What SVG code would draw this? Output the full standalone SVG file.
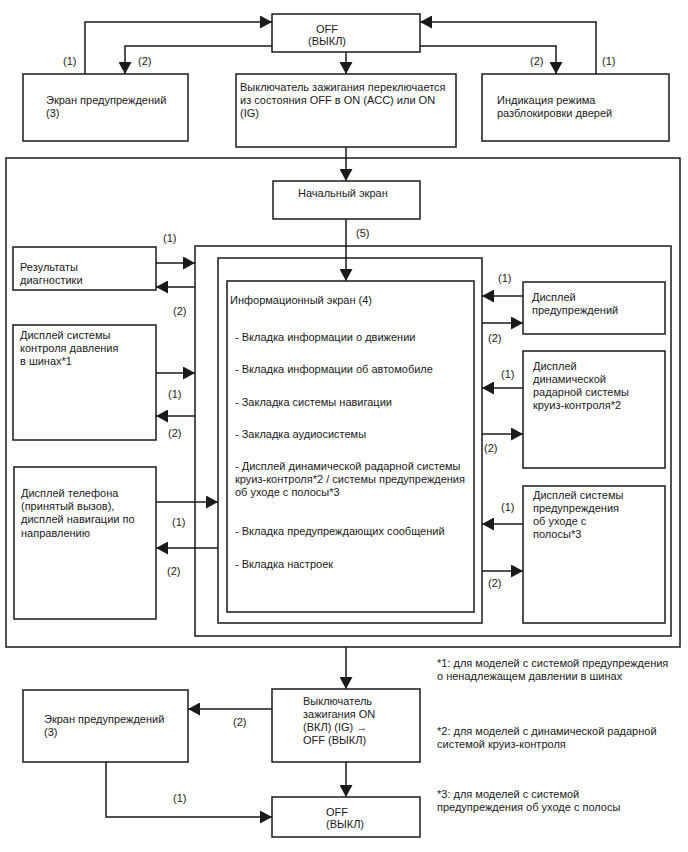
<svg xmlns="http://www.w3.org/2000/svg" width="688" height="852" viewBox="0 0 688 852">
<style>
.b{fill:#fff;stroke:#1a1a1a;stroke-width:1.5}
.c{fill:none;stroke:#1a1a1a;stroke-width:1.5}
text{font-family:"Liberation Sans",Arial,sans-serif;font-size:11px;fill:#1a1a1a}
</style>
<defs>
<marker id="a" viewBox="0 0 12 13" refX="12" refY="6.5" markerWidth="12" markerHeight="13" markerUnits="userSpaceOnUse" orient="auto">
<path d="M0,0 L12,6.5 L0,13 z" fill="#1a1a1a"/>
</marker>
</defs>
<rect width="688" height="852" fill="#fff"/>

<g id="outer"><rect class="b" x="6" y="158" width="674" height="489"/></g>
<g id="group2"><rect class="b" x="195" y="246" width="476" height="390"/></g>
<g id="group3"><rect class="b" x="218" y="258" width="264" height="365"/></g>

<g id="off-top"><rect class="b" x="272" y="14" width="148" height="38"/>
<text x="316" y="33">OFF</text><text x="308" y="45">(ВЫКЛ)</text></g>

<g id="warn-top"><rect class="b" x="23" y="74" width="165" height="67"/>
<text x="46" y="104">Экран предупреждений</text><text x="46" y="117">(3)</text></g>

<g id="ign-on"><rect class="b" x="236" y="74" width="220" height="73"/>
<text x="240" y="91">Выключатель зажигания переключается</text>
<text x="240" y="104">из состояния OFF в ON (ACC) или ON</text>
<text x="240" y="117">(IG)</text></g>

<g id="door"><rect class="b" x="482" y="74" width="187" height="67"/>
<text x="497" y="104">Индикация режима</text><text x="497" y="117">разблокировки дверей</text></g>

<g id="start"><rect class="b" x="273" y="181" width="147" height="38"/>
<text x="298" y="197">Начальный экран</text></g>

<g id="info"><rect class="b" x="227" y="281" width="247" height="331"/>
<text x="230" y="304">Информационный экран (4)</text>
<text x="235" y="341">- Вкладка информации о движении</text>
<text x="235" y="373">- Вкладка информации об автомобиле</text>
<text x="235" y="406">- Закладка системы навигации</text>
<text x="235" y="438">- Закладка аудиосистемы</text>
<text x="235" y="470">- Дисплей динамической радарной системы</text>
<text x="235" y="483">круиз-контроля*2 / системы предупреждения</text>
<text x="235" y="496">об уходе с полосы*3</text>
<text x="235" y="535">- Вкладка предупреждающих сообщений</text>
<text x="235" y="568">- Вкладка настроек</text></g>

<g id="diag"><rect class="b" x="13" y="247" width="143" height="43"/>
<text x="20" y="271">Результаты</text><text x="20" y="284">диагностики</text></g>

<g id="tire"><rect class="b" x="13" y="325" width="143" height="115"/>
<text x="20" y="339">Дисплей системы</text><text x="20" y="352">контроля давления</text><text x="20" y="365">в шинах*1</text></g>

<g id="phone"><rect class="b" x="14" y="467" width="142" height="152"/>
<text x="21" y="497">Дисплей телефона</text><text x="21" y="510">(принятый вызов),</text><text x="21" y="523">дисплей навигации по</text><text x="21" y="537">направлению</text></g>

<g id="warn-r"><rect class="b" x="523" y="282" width="142" height="52"/>
<text x="532" y="301">Дисплей</text><text x="532" y="314">предупреждений</text></g>

<g id="cruise"><rect class="b" x="523" y="351" width="142" height="117"/>
<text x="533" y="370">Дисплей</text><text x="533" y="383">динамической</text><text x="533" y="396">радарной системы</text><text x="533" y="409">круиз-контроля*2</text></g>

<g id="lane"><rect class="b" x="523" y="486" width="142" height="137"/>
<text x="533" y="499">Дисплей системы</text><text x="533" y="512">предупреждения</text><text x="533" y="525">об уходе с</text><text x="533" y="538">полосы*3</text></g>

<g id="ign-off"><rect class="b" x="272" y="689" width="148" height="73"/>
<text x="303" y="705">Выключатель</text><text x="303" y="718">зажигания ON</text><text x="303" y="731">(ВКЛ) (IG) →</text><text x="303" y="744">OFF (ВЫКЛ)</text></g>

<g id="warn-bot"><rect class="b" x="23" y="690" width="165" height="72"/>
<text x="44" y="723">Экран предупреждений</text><text x="44" y="736">(3)</text></g>

<g id="off-bot"><rect class="b" x="272" y="797" width="148" height="40"/>
<text x="326" y="816">OFF</text><text x="326" y="828">(ВЫКЛ)</text></g>

<g id="notes">
<text x="437" y="667">*1: для моделей с системой предупреждения</text>
<text x="437" y="680">о ненадлежащем давлении в шинах</text>
<text x="437" y="735">*2: для моделей с динамической радарной</text>
<text x="437" y="748">системой круиз-контроля</text>
<text x="437" y="798">*3: для моделей с системой</text>
<text x="437" y="811">предупреждения об уходе с полосы</text>
</g>

<g id="connectors">
<polyline class="c" points="85,74 85,22 272,22" marker-end="url(#a)"/>
<polyline class="c" points="272,46 125,46 125,74" marker-end="url(#a)"/>
<line class="c" x1="346" y1="52" x2="346" y2="74" marker-end="url(#a)"/>
<polyline class="c" points="420,46 556,46 556,74" marker-end="url(#a)"/>
<polyline class="c" points="596,74 596,22 420,22" marker-end="url(#a)"/>
<line class="c" x1="346" y1="147" x2="346" y2="181" marker-end="url(#a)"/>
<line class="c" x1="346" y1="219" x2="346" y2="281" marker-end="url(#a)"/>
<line class="c" x1="156" y1="263" x2="195" y2="263" marker-end="url(#a)"/>
<line class="c" x1="195" y1="287" x2="156" y2="287" marker-end="url(#a)"/>
<line class="c" x1="156" y1="373" x2="195" y2="373" marker-end="url(#a)"/>
<line class="c" x1="195" y1="416" x2="156" y2="416" marker-end="url(#a)"/>
<line class="c" x1="156" y1="502" x2="218" y2="502" marker-end="url(#a)"/>
<line class="c" x1="218" y1="548" x2="156" y2="548" marker-end="url(#a)"/>
<line class="c" x1="523" y1="296" x2="482" y2="296" marker-end="url(#a)"/>
<line class="c" x1="482" y1="323" x2="523" y2="323" marker-end="url(#a)"/>
<line class="c" x1="523" y1="388" x2="482" y2="388" marker-end="url(#a)"/>
<line class="c" x1="482" y1="434" x2="523" y2="434" marker-end="url(#a)"/>
<line class="c" x1="523" y1="524" x2="482" y2="524" marker-end="url(#a)"/>
<line class="c" x1="482" y1="571" x2="523" y2="571" marker-end="url(#a)"/>
<line class="c" x1="346" y1="647" x2="346" y2="689" marker-end="url(#a)"/>
<line class="c" x1="272" y1="709" x2="188" y2="709" marker-end="url(#a)"/>
<polyline class="c" points="106,762 106,817 272,817" marker-end="url(#a)"/>
<line class="c" x1="346" y1="762" x2="346" y2="797" marker-end="url(#a)"/>
<text x="63" y="65">(1)</text><text x="138" y="65">(2)</text>
<text x="530" y="65">(2)</text><text x="602" y="65">(1)</text>
<text x="356" y="237">(5)</text>
<text x="163" y="242">(1)</text><text x="173" y="315">(2)</text>
<text x="168" y="398">(1)</text><text x="168" y="437">(2)</text>
<text x="172" y="526">(1)</text><text x="167" y="575">(2)</text>
<text x="498" y="282">(1)</text><text x="488" y="342">(2)</text>
<text x="501" y="378">(1)</text><text x="484" y="452">(2)</text>
<text x="501" y="511">(1)</text><text x="488" y="587">(2)</text>
<text x="233" y="726">(2)</text><text x="173" y="802">(1)</text>
</g>
</svg>
